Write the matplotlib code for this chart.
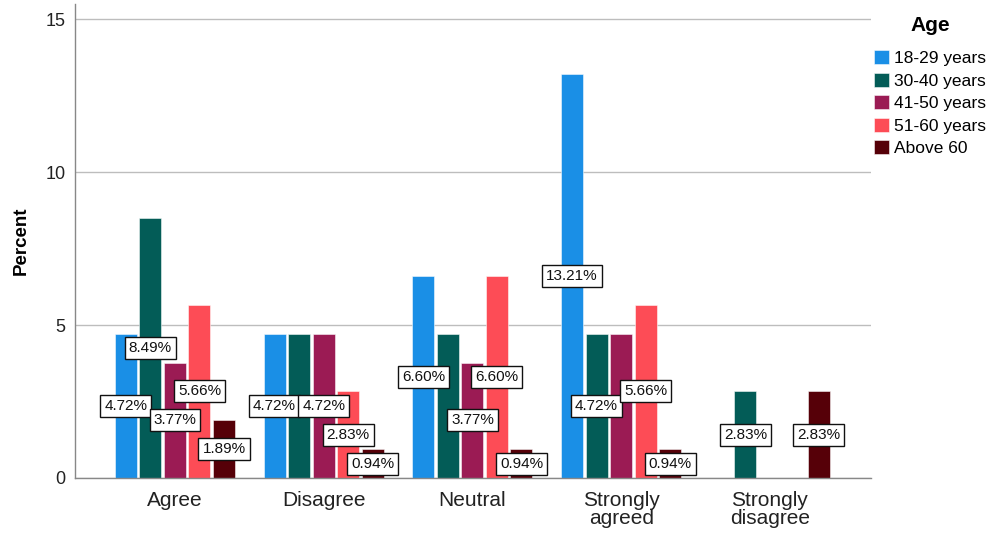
import matplotlib
matplotlib.use("Agg")
import matplotlib.pyplot as plt
import numpy as np

categories = ["Agree", "Disagree", "Neutral", "Strongly\nagreed", "Strongly\ndisagree"]
series_names = ["18-29 years", "30-40 years", "41-50 years", "51-60 years", "Above 60"]
v_18_29 = [4.72, 4.72, 6.60, 13.21, 0.0]
v_30_40 = [8.49, 4.72, 4.72, 4.72, 2.83]
v_41_50 = [3.77, 4.72, 3.77, 4.72, 0.0]
v_51_60 = [5.66, 2.83, 6.60, 5.66, 0.0]
v_above60 = [1.89, 0.94, 0.94, 0.94, 2.83]
series_values = [v_18_29, v_30_40, v_41_50, v_51_60, v_above60]
# (category index, series index) of value labels hidden because they collide
hidden_labels = [(1, 1), (2, 1), (3, 2)]
colors = ["#1a8fe6", "#035c57", "#9b1b54", "#fd4c56", "#560008"]
yticks = [0, 5, 10, 15]

plt.rcParams['font.family'] = ['Liberation Sans', 'DejaVu Sans']

fig = plt.figure(figsize=(9.93, 5.35), dpi=100)
ax = fig.add_axes([75/993, (535-478)/535, (871-75)/993, (478-4)/535])

x = np.arange(len(categories))
step = 0.165
width = 0.148
handles = []
for i, (name, vals, c) in enumerate(zip(series_names, series_values, colors)):
    xs = x + (i - 2) * step
    bars = ax.bar(xs, vals, width=width, color=c, edgecolor=(1, 1, 1, 0.6), linewidth=0.6,
                  label=name, zorder=2)
    handles.append(bars)
for i, (vals, c) in enumerate(zip(series_values, colors)):
    xs = x + (i - 2) * step
    for j, (xi, v) in enumerate(zip(xs, vals)):
        if v > 0 and (j, i) not in hidden_labels:
            ax.text(xi, v / 2, f"{v:.2f}%", ha="center", va="center", fontsize=11,
                    color="#111111", zorder=5,
                    bbox=dict(boxstyle="square,pad=0.26", facecolor="white",
                              edgecolor="#111111", linewidth=1.0))

ax.set_xlim(-0.672, 4.68)
ax.set_ylim(0, 15.5)
ax.set_yticks(yticks)
ax.set_yticklabels([str(t) for t in yticks], fontsize=13, color="#222222")
ax.set_xticks(x)
ax.set_xticklabels(categories, fontsize=15, color="#222222", linespacing=0.95)
ax.tick_params(axis="x", length=0, pad=9)
ax.tick_params(axis="y", length=0, pad=7)
ax.grid(axis="y", color="#bdbdbd", linewidth=1.0, zorder=0)
ax.set_axisbelow(True)
for s in ["top", "right"]:
    ax.spines[s].set_visible(False)
for s in ["left", "bottom"]:
    ax.spines[s].set_color("#888888")
    ax.spines[s].set_linewidth(1.0)
ax.set_ylabel("Percent", fontsize=13.5, fontweight="bold", labelpad=11)

leg = fig.legend(handles=handles, labels=series_names, title="Age",
                 loc="upper left", bbox_to_anchor=(874/993, 1 - 16/535),
                 frameon=False, fontsize=12.5, title_fontproperties={"weight": "bold", "size": 15},
                 handlelength=0.85, handleheight=0.85, handletextpad=0.3, labelspacing=0.38,
                 borderaxespad=0, borderpad=0)
leg._legend_box.sep = 11

fig.savefig("out.png", dpi=100)
